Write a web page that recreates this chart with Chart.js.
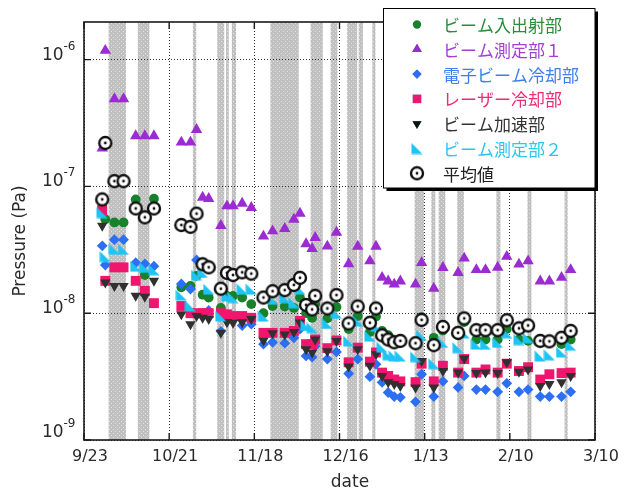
<!DOCTYPE html>
<html>
<head>
<meta charset="utf-8">
<script src="https://cdn.jsdelivr.net/npm/chart.js@4.4.0/dist/chart.umd.min.js"></script>
<style>
  html, body { margin: 0; padding: 0; background: #ffffff; }
  #wrap { width: 624px; height: 493px; position: relative; }
</style>
</head>
<body>
<div id="wrap"><canvas id="chart" width="624" height="493"></canvas></div>
<script>
// Axis ticks: days counted from 9/23
const dayTicks = [0, 28, 56, 84, 112, 140, 168];
const dayTickLabels = ['9/23', '10/21', '11/18', '12/16', '1/13', '2/10', '3/10'];
const decadeExponents = [-6, -7, -8, -9];

// Measurement days (days after 9/23)
const dates = [6, 7, 10, 13, 17, 20, 23, 32, 35, 37, 39, 41, 45, 47, 49, 52, 55,
  59, 62, 66, 69, 71, 73, 75, 76, 80, 83, 87, 90, 94, 96, 98, 100, 102, 104,
  109, 111, 115, 118, 123, 125, 129, 132, 136, 139, 143, 146, 150, 153, 157, 160];

// Shutdown periods (start day, end day)
const bandStart = [8.1, 17.7, 35.8, 43.8, 46.7, 48.6, 61.3, 74.5, 81.1, 86.5, 90.3, 94.8, 108.7, 114.2, 116.6, 122.7, 135.6, 145.8, 158.0];
const bandEnd   = [13.8, 21.5, 36.9, 46.1, 47.6, 50.0, 70.6, 78.5, 83.3, 89.8, 91.7, 95.8, 111.8, 115.5, 118.8, 124.9, 136.9, 147.1, 159.0];

const seriesNames = ['ビーム入出射部', 'ビーム測定部１', '電子ビーム冷却部', 'レーザー冷却部', 'ビーム加速部', 'ビーム測定部２', '平均値'];

// Pressure readings (Pa)
const beamInOut = [7.0e-8, 5.5e-8, 5.2e-8, 5.2e-8, 7.9e-8, 2.0e-8, 8.0e-8, 1.6e-8, 1.64e-8, 1.97e-8, 1.4e-8, 1.33e-8,
  1.1e-8, 1.37e-8, 1.37e-8, 1.33e-8, 1.18e-8, 1.0e-8, 1.14e-8, 1.13e-8, 1.1e-8, 1.33e-8,
  1.0e-8, 9.2e-9, 1.18e-8, 9.1e-9, 1.12e-8, 7.5e-9, 9.5e-9, 7.1e-9, 9.4e-9, 7.25e-9,
  6.7e-9, 6.1e-9, 6.2e-9, 5.9e-9, 9.3e-9, 6.4e-9, 7.3e-9, 6.7e-9, 8.5e-9, 6.2e-9,
  6.2e-9, 6.2e-9, 7.5e-9, 6.2e-9, 6.05e-9, 6.1e-9, 6.1e-9, 5.7e-9, 6.2e-9];
const measure1 = [2.0e-7, 1.18e-6, 4.9e-7, 4.9e-7, 2.5e-7, 2.5e-7, 2.5e-7, 2.23e-7, 2.23e-7, 2.8e-7, 8.2e-8, 8.0e-8,
  4.9e-8, 7.0e-8, 7.0e-8, 7.35e-8, 6.8e-8, 4.04e-8, 4.45e-8, 4.64e-8, 5.5e-8, 6.13e-8,
  3.52e-8, 3.23e-8, 3.94e-8, 3.37e-8, 4.34e-8, 2.45e-8, 3.36e-8, 2.58e-8, 3.36e-8, 1.91e-8,
  1.79e-8, 1.69e-8, 1.79e-8, 1.69e-8, 2.5e-8, 1.57e-8, 2.29e-8, 2.09e-8, 2.71e-8, 2.2e-8,
  2.2e-8, 2.3e-8, 2.8e-8, 2.43e-8, 2.58e-8, 1.79e-8, 1.79e-8, 1.91e-8, 2.2e-8];
const electronCool = [3.4e-8, 2.4e-8, 3.8e-8, 3.8e-8, 2.5e-8, 2.45e-8, 2.35e-8, 1.7e-8, 1.55e-8, 2.63e-8, 1.0e-8, 1.05e-8,
  7.2e-9, 9.3e-9, 9.0e-9, 8.0e-9, 8.2e-9, 5.7e-9, 5.9e-9, 5.8e-9, 6.4e-9, 7.5e-9,
  4.6e-9, 4.5e-9, 5.5e-9, 4.35e-9, 4.95e-9, 3.34e-9, 4.35e-9, 3.16e-9, 3.95e-9, 2.85e-9,
  2.37e-9, 2.2e-9, 2.17e-9, 2.0e-9, 3.3e-9, 2.2e-9, 2.9e-9, 2.6e-9, 3.2e-9, 2.5e-9,
  2.5e-9, 2.4e-9, 2.8e-9, 2.4e-9, 2.5e-9, 2.2e-9, 2.2e-9, 2.2e-9, 2.4e-9];
const laserCool = [6.4e-8, 1.8e-8, 2.3e-8, 2.3e-8, 1.8e-8, 1.5e-8, 1.2e-8, 1.14e-8, 1.0e-8, 1.0e-8, 1.0e-8, 1.0e-8,
  1.0e-8, 9.8e-9, 9.5e-9, 9.5e-9, 9.2e-9, 7.0e-9, 7.0e-9, 7.0e-9, 7.25e-9, 8.7e-9,
  5.7e-9, 5.7e-9, 6.2e-9, 5.3e-9, 6.1e-9, 4.1e-9, 5.35e-9, 4.15e-9, 4.9e-9, 3.4e-9,
  3.2e-9, 3.0e-9, 2.9e-9, 2.86e-9, 4.0e-9, 2.9e-9, 3.85e-9, 3.4e-9, 4.35e-9, 3.4e-9,
  3.6e-9, 3.4e-9, 4.0e-9, 3.5e-9, 3.75e-9, 3.0e-9, 3.3e-9, 3.37e-9, 3.4e-9];
const accel = [4.9e-8, 1.75e-8, 1.64e-8, 1.64e-8, 1.37e-8, 1.35e-8, 1.8e-8, 9.8e-9, 8.2e-9, 9.5e-9, 9.2e-9, 9.0e-9,
  7.0e-9, 8.5e-9, 8.4e-9, 8.5e-9, 9.0e-9, 6.1e-9, 6.95e-9, 6.8e-9, 7.1e-9, 8.45e-9,
  5.2e-9, 4.9e-9, 6.2e-9, 5.0e-9, 6.05e-9, 3.8e-9, 5.2e-9, 3.85e-9, 4.75e-9, 3.2e-9,
  2.86e-9, 2.76e-9, 2.67e-9, 2.6e-9, 4.2e-9, 2.6e-9, 3.5e-9, 3.4e-9, 4.4e-9, 3.37e-9,
  3.4e-9, 3.37e-9, 4.1e-9, 3.45e-9, 3.6e-9, 2.67e-9, 2.76e-9, 2.85e-9, 3.2e-9];
const measure2 = [6.2e-8, 2.8e-8, 3.2e-8, 3.2e-8, 2.35e-8, 2.3e-8, 2.2e-8, 1.39e-8, 1.14e-8, 2.0e-8, 2.1e-8, 1.55e-8,
  9.5e-9, 1.37e-8, 1.33e-8, 1.55e-8, 1.55e-8, 9.5e-9, 1.29e-8, 1.33e-8, 1.21e-8, 1.55e-8,
  8.0e-9, 7.7e-9, 1.18e-8, 8.3e-9, 1.0e-8, 6.05e-9, 8.7e-9, 6.6e-9, 7.9e-9, 5.4e-9,
  4.7e-9, 4.6e-9, 4.6e-9, 4.55e-9, 6.7e-9, 4.0e-9, 5.9e-9, 5.35e-9, 7.0e-9, 5.7e-9,
  5.7e-9, 5.9e-9, 7.0e-9, 6.2e-9, 6.4e-9, 4.6e-9, 4.7e-9, 4.95e-9, 5.6e-9];
const average = [7.9e-8, 2.2e-7, 1.1e-7, 1.1e-7, 6.7e-8, 5.7e-8, 6.7e-8, 4.96e-8, 4.8e-8, 6.1e-8, 2.43e-8, 2.3e-8,
  1.56e-8, 2.08e-8, 2.0e-8, 2.1e-8, 2.05e-8, 1.33e-8, 1.49e-8, 1.52e-8, 1.67e-8, 1.9e-8,
  1.16e-8, 1.07e-8, 1.37e-8, 1.09e-8, 1.39e-8, 8.3e-9, 1.13e-8, 8.4e-9, 1.09e-8, 6.7e-9,
  6.2e-9, 5.9e-9, 6.05e-9, 5.8e-9, 8.85e-9, 5.6e-9, 7.8e-9, 7.0e-9, 9.1e-9, 7.35e-9,
  7.35e-9, 7.35e-9, 8.8e-9, 7.6e-9, 8.0e-9, 6.05e-9, 6.0e-9, 6.4e-9, 7.25e-9];

const JP_FONT = '"Noto Sans CJK JP", sans-serif';
const LATIN_FONT = '"DejaVu Sans", "Noto Sans", sans-serif';

// Marker images for the two shapes Chart.js has no built-in style for
function makeRightTriangle(color) {
  const c = document.createElement('canvas');
  c.width = 12; c.height = 12;
  const g = c.getContext('2d');
  g.fillStyle = color;
  g.beginPath();
  g.moveTo(0.5, 0.5); g.lineTo(0.5, 11.5); g.lineTo(11.5, 11.5); g.closePath();
  g.fill();
  return c;
}
function makeAverageMarker() {
  const c = document.createElement('canvas');
  c.width = 16; c.height = 16;
  const g = c.getContext('2d');
  g.beginPath(); g.arc(8, 8, 6.0, 0, Math.PI * 2);
  g.fillStyle = '#ffffff'; g.fill();
  g.lineWidth = 2.4; g.strokeStyle = '#111111'; g.stroke();
  g.beginPath(); g.arc(8, 8, 1.4, 0, Math.PI * 2);
  g.fillStyle = '#111111'; g.fill();
  return c;
}
function makeStipple() {
  const c = document.createElement('canvas');
  c.width = 4; c.height = 4;
  const g = c.getContext('2d');
  g.fillStyle = '#c0c0c0'; g.fillRect(0, 0, 4, 4);
  g.fillStyle = '#e2e2e2'; g.fillRect(1, 1, 1, 1); g.fillRect(3, 3, 1, 1);
  return c;
}

const cyanTri = makeRightTriangle('#1ec4f4');
const avgMark = makeAverageMarker();

const styles = [
  { color: '#17812b', text: '#2b8c3b', pointStyle: 'circle', radius: 4.9, rotation: 0, order: 6 },
  { color: '#9a2cd2', text: '#a43ed4', pointStyle: 'triangle', radius: 6.6, rotation: 0, order: 5 },
  { color: '#2c6ff2', text: '#3e7ff0', pointStyle: 'rectRot', radius: 5.4, rotation: 0, order: 4 },
  { color: '#f0166e', text: '#ef2a74', pointStyle: 'rect', radius: 7.0, rotation: 0, order: 3 },
  { color: '#303030', text: '#333333', pointStyle: 'triangle', radius: 6.0, rotation: 180, order: 2 },
  { color: '#1ec4f4', text: '#2cc6f2', pointStyle: cyanTri, radius: 5, rotation: 0, order: 1 },
  { color: '#111111', text: '#222222', pointStyle: avgMark, radius: 6, rotation: 0, order: 0 }
];
const seriesValues = [beamInOut, measure1, electronCool, laserCool, accel, measure2, average];

const datasets = seriesValues.map((vals, i) => ({
  label: seriesNames[i],
  data: vals.map((v, j) => ({ x: dates[j], y: v })),
  showLine: false,
  pointStyle: styles[i].pointStyle,
  pointRadius: styles[i].radius,
  pointHoverRadius: styles[i].radius,
  pointRotation: styles[i].rotation,
  backgroundColor: styles[i].color,
  borderColor: styles[i].color,
  borderWidth: 0,
  order: styles[i].order
}));

const stipple = makeStipple();

const decorations = {
  id: 'decorations',
  beforeDraw(chart) {
    const { ctx, chartArea: a } = chart;
    const xs = chart.scales.x;
    ctx.save();
    ctx.beginPath(); ctx.rect(a.left, a.top, a.right - a.left, a.bottom - a.top); ctx.clip();
    ctx.fillStyle = ctx.createPattern(stipple, 'repeat');
    for (let i = 0; i < bandStart.length; i++) {
      const x0 = xs.getPixelForValue(bandStart[i]);
      const x1 = xs.getPixelForValue(bandEnd[i]);
      ctx.fillRect(x0, a.top, x1 - x0, a.bottom - a.top);
    }
    ctx.restore();
  },
  afterDraw(chart) {
    const { ctx, chartArea: a } = chart;
    const xs = chart.scales.x, ys = chart.scales.y;
    ctx.save();
    // frame
    ctx.strokeStyle = '#1a1a1a';
    ctx.lineWidth = 1.6;
    ctx.strokeRect(a.left, a.top, a.right - a.left, a.bottom - a.top);
    // inward tick marks on all four sides
    ctx.lineWidth = 1.4;
    ctx.beginPath();
    dayTicks.forEach(d => {
      const x = xs.getPixelForValue(d);
      ctx.moveTo(x, a.bottom); ctx.lineTo(x, a.bottom - 7);
      ctx.moveTo(x, a.top); ctx.lineTo(x, a.top + 7);
    });
    decadeExponents.forEach(e => {
      const y = ys.getPixelForValue(Math.pow(10, e));
      ctx.moveTo(a.left, y); ctx.lineTo(a.left + 7, y);
      ctx.moveTo(a.right, y); ctx.lineTo(a.right - 7, y);
    });
    ctx.stroke();

    // x tick labels
    ctx.fillStyle = '#2a2a2a';
    ctx.font = '16px ' + LATIN_FONT;
    ctx.textAlign = 'center';
    ctx.textBaseline = 'middle';
    dayTicks.forEach((d, i) => {
      ctx.fillText(dayTickLabels[i], xs.getPixelForValue(d) + 6, 457);
    });
    // y tick labels: 10 with superscript exponent
    decadeExponents.forEach(e => {
      const y = Math.min(ys.getPixelForValue(Math.pow(10, e)), a.bottom - 3);
      ctx.textAlign = 'left';
      ctx.textBaseline = 'alphabetic';
      ctx.font = '17px ' + LATIN_FONT;
      ctx.fillText('10', 42, y);
      ctx.font = '12px ' + LATIN_FONT;
      ctx.fillText(String(e), 63.5, y - 10);
    });
    // axis titles
    ctx.font = '17px ' + LATIN_FONT;
    ctx.textAlign = 'center';
    ctx.textBaseline = 'middle';
    ctx.fillText('date', 350, 483);
    ctx.save();
    ctx.translate(21, 241);
    ctx.rotate(-Math.PI / 2);
    ctx.fillText('Pressure (Pa)', 0, 0);
    ctx.restore();

    // legend box with drop shadow
    const L = 383.5, T = 8.5, R = 595, B = 188;
    ctx.fillStyle = '#000000';
    ctx.fillRect(L + 3, T + 3, R - L, B - T);
    ctx.fillStyle = '#ffffff';
    ctx.fillRect(L, T, R - L, B - T);
    ctx.strokeStyle = '#000000';
    ctx.lineWidth = 1;
    ctx.strokeRect(L, T, R - L, B - T);
    chart.data.datasets.forEach((ds, i) => {
      const y = 24.5 + i * 24.8;
      Chart.helpers.drawPoint(ctx, {
        pointStyle: ds.pointStyle,
        radius: ds.pointRadius * 0.85,
        rotation: ds.pointRotation,
        borderWidth: 0
      }, 417, y);
      ctx.fillStyle = ds.backgroundColor;
      ctx.fill();
      ctx.fillStyle = styles[i].text;
      ctx.font = '17px ' + JP_FONT;
      ctx.textAlign = 'left';
      ctx.textBaseline = 'middle';
      ctx.fillText(ds.label, 443, y + 1);
    });
    ctx.restore();
  }
};

new Chart(document.getElementById('chart'), {
  type: 'scatter',
  data: { datasets },
  options: {
    responsive: false,
    animation: false,
    events: [],
    layout: { padding: { top: 22, right: 29, left: 0, bottom: 0 } },
    plugins: { legend: { display: false }, tooltip: { enabled: false } },
    scales: {
      x: {
        type: 'linear',
        min: 0, max: 168,
        afterBuildTicks: s => { s.ticks = dayTicks.map(v => ({ value: v })); },
        afterFit: s => { s.height = 53; },
        ticks: { display: false },
        grid: { color: '#333333', lineWidth: 1, drawTicks: false },
        border: { display: false, dash: [1, 2] }
      },
      y: {
        type: 'logarithmic',
        min: 1e-9, max: 1.98e-6,
        afterBuildTicks: s => { s.ticks = decadeExponents.map(e => ({ value: Math.pow(10, e) })); },
        afterFit: s => { s.width = 84; },
        ticks: { display: false },
        grid: { color: '#333333', lineWidth: 1, drawTicks: false },
        border: { display: false, dash: [1, 2] }
      }
    }
  },
  plugins: [decorations]
});
</script>
</body>
</html>
